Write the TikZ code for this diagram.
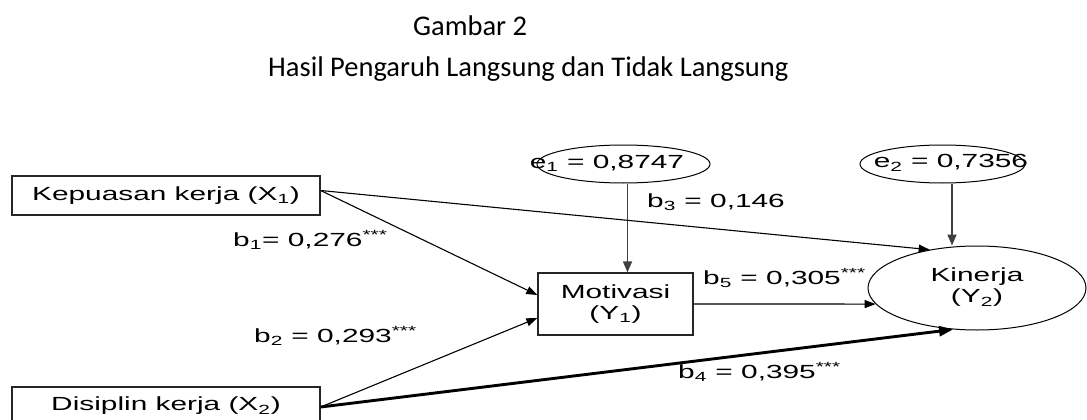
\documentclass[tikz,border=0pt]{standalone}
\usepackage{fontspec}
\usepackage{graphicx}
\setmainfont{Liberation Sans}
\newfontfamily\captionfont{Carlito}
\usetikzlibrary{shapes.geometric,arrows.meta,calc}
% diagram lettering is set wide
\newcommand{\widetxt}[1]{\scalebox{1.57}[1]{#1}}
\begin{document}
\begin{tikzpicture}[x=1pt,y=-1pt,
  every node/.style={font=\fontsize{19}{21}\selectfont, text=black},
  captiontext/.style={anchor=base west, inner sep=0pt, font=\captionfont\fontsize{28.5}{34}\selectfont},
  varbox/.style={draw=black!85, line width=1.3pt, inner sep=0pt, minimum width=308pt, minimum height=39pt},
  errell/.style={ellipse, draw=black, line width=1pt, inner sep=0pt, minimum height=38pt},
  link/.style={draw=black, line width=1.1pt, -{Triangle[length=11pt,width=8pt]}},
  strong/.style={draw=black, line width=2.9pt, -{Triangle[length=14pt,width=10pt]}},
  errlink/.style={draw=black!75, line width=1.7pt, -{Triangle[length=11pt,width=9pt]}},
  coef/.style={anchor=west, inner sep=0pt}
]
\useasboundingbox (0,0) rectangle (1087,420);

% caption
\node[captiontext] (fig) at (413,36) {Gambar 2};
\node[captiontext] (ttl) at (268,77) {Hasil Pengaruh Langsung dan Tidak Langsung};

% variables
\node[varbox] (x1) at (166,195.5) {\widetxt{Kepuasan kerja (X\textsubscript{1})}};
\node[varbox, minimum height=40pt] (x2) at (166,407) {\raisebox{6pt}{\widetxt{Disiplin kerja (X\textsubscript{2})}}};
\node[varbox, minimum width=155pt, minimum height=62pt, align=center] (mot) at (615.5,304)
  {\widetxt{Motivasi}\\\widetxt{(Y\textsubscript{1})}};
\node[ellipse, draw=black, line width=1pt, inner sep=0pt, minimum width=218pt, minimum height=84pt] (kin) at (977,288)
  {\raisebox{6pt}{\widetxt{\begin{tabular}{@{}c@{}}Kinerja\\(Y\textsubscript{2})\end{tabular}}}};

% error terms
\node[errell, minimum width=173pt] (e1) at (623.5,164) {};
\node[inner sep=0pt] (e1t) at (607,163) {\widetxt{e\textsubscript{1} = 0,8747}};
\node[errell, minimum width=165pt] (e2) at (942.5,164) {};
\node[inner sep=0pt] (e2t) at (951,163) {\widetxt{e\textsubscript{2} = 0,7356}};

% paths
\coordinate (e1s) at ([xshift=4pt]e1.south);
\coordinate (e2s) at ([xshift=9.5pt]e2.south);
\draw[errlink] (e1s) -- (e1s |- mot.north);
\draw[errlink] (e2s) -- (e2s |- kin.north);
\draw[link] ([yshift=5pt]x1.east) -- ([yshift=9pt]mot.west);
\draw[link] ([yshift=5pt]x1.east) -- (kin.141);
\draw[link] (x2.east) -- ([yshift=-14pt]mot.west);
\draw[strong] (x2.east) -- (kin.240);
\draw[link] (mot.east) -- (kin.189);

% coefficients
\node[coef] (b1) at (233,240) {\widetxt{b\textsubscript{1}= 0,276\textsuperscript{***}}};
\node[coef] (b2) at (254,336) {\widetxt{b\textsubscript{2} = 0,293\textsuperscript{***}}};
\node[coef] (b3) at (647,202) {\widetxt{b\textsubscript{3} = 0,146}};
\node[coef] (b4) at (678,372) {\widetxt{b\textsubscript{4} = 0,395\textsuperscript{***}}};
\node[coef] (b5) at (703,278) {\widetxt{b\textsubscript{5} = 0,305\textsuperscript{***}}};
\end{tikzpicture}
\end{document}
